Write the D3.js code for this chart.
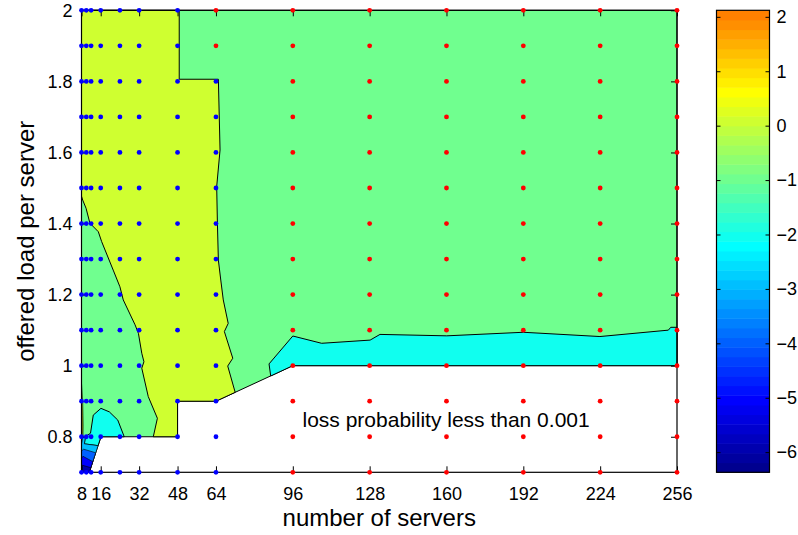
<!DOCTYPE html>
<html>
<head>
<meta charset="utf-8">
<script src="https://cdn.jsdelivr.net/npm/d3@7"></script>
<style>
  body { margin: 0; background: #fff; }
  svg { display: block; }
  text { font-family: "Liberation Sans", Arial, Helvetica, sans-serif; fill: #000; }
</style>
</head>
<body>
<div id="chart"></div>
<script>
// ---- data ----
var xTicks = [8, 16, 32, 48, 64, 96, 128, 160, 192, 224, 256];
var yTicks = [0.8, 1, 1.2, 1.4, 1.6, 1.8, 2];
var cTicks = [-6, -5, -4, -3, -2, -1, 0, 1, 2];
var cRange = [-6.37, 2.12];

// sample grid (number of servers x offered load)
var serverGrid = [8, 10, 12, 16, 24, 32, 48, 64, 96, 128, 160, 192, 224, 256];
var loadGrid = [0.7, 0.8, 0.9, 1.0, 1.1, 1.2, 1.3, 1.4, 1.5, 1.6, 1.7, 1.8, 1.9, 2.0];
var blueServers = [8, 10, 12, 16, 24, 32, 48, 64];
var redLoadsAt64 = [1.9, 2.0];

// filled contour regions [servers, load], level = log10 band
var validRegion = [[8,2],[256,2],[256,1],[96,1],[64,0.9],[48,0.9],[48,0.8],[16.12,0.8],[11.25,0.7],[8,0.7]];
var cyanBand = [[86.8,0.971],[86.1,1.005],[96,1.0835],[108,1.063],[128.2,1.072],[132.3,1.088],[160.1,1.084],
  [192,1.094],[223.9,1.082],[252.4,1.1],[253.4,1.108],[256,1.108],[256,1],[96,1]];
var cyanBlob = [[9.6,0.8],[11.75,0.81],[12.9,0.861],[16.1,0.88],[19.6,0.87],[23.1,0.847],[25.8,0.8],
  [16.12,0.8],[14.9,0.775],[9.2,0.78]];
var yellowRegion = [[8,2],[48.7,2],[48.7,1.806],[65,1.806],[65.7,1.607],[64.3,1.504],[64.6,1.40],[65,1.297],
  [66,1.241],[67.05,1.185],[69.1,1.119],[67.5,1.096],[71,1.021],[68.9,0.999],[72,0.925],[64,0.9],[48,0.9],
  [48,0.8],[37.9,0.8],[39.6,0.852],[35.8,0.913],[33.1,0.993],[34,1.011],[33.1,1.035],[31.7,1.091],
  [30.3,1.115],[25.4,1.185],[24,1.222],[21.2,1.269],[16.4,1.349],[15,1.377],[11.5,1.401],[9.9,1.443],
  [8.5,1.466],[8,1.477]];
var sliver0 = [[8,0.95],[8.5,0.9],[8.7,0.83],[8.6,0.8],[8,0.79]];
var sliver1 = [[8,0.91],[8.3,0.86],[8.35,0.81],[8,0.8]];
var wedge3 = [[8.6,0.8],[9.6,0.8],[9.2,0.78],[14.9,0.775],[11.25,0.7],[8,0.7],[8,0.78]];
var wedge4 = [[8.9,0.765],[13.9,0.755],[11.25,0.7],[8,0.7],[8,0.76]];
var wedge5 = [[8.6,0.745],[12.7,0.73],[11.25,0.7],[8,0.7],[8,0.74]];
var wedge6 = [[8.3,0.72],[11.9,0.713],[11.25,0.7],[8,0.7]];

var regions = [
  {level: -1, pts: validRegion},
  {level: -2, pts: cyanBand},
  {level: -2, pts: cyanBlob},
  {level: 0, pts: yellowRegion},
  {level: 0, pts: sliver0, thin: true},
  {level: 1, pts: sliver1, thin: true},
  {level: -3, pts: wedge3, thin: true},
  {level: -4, pts: wedge4, thin: true},
  {level: -5, pts: wedge5, thin: true},
  {level: -6, pts: wedge6, thin: true}
];

// ---- MATLAB jet(64), first 48 entries used ----
var nColors = 48;
function jet64(i) {
  var u = function(k) {
    if (k <= 0 || k > 47) return 0;
    if (k <= 16) return k / 16;
    if (k <= 31) return 1;
    return (48 - k) / 16;
  };
  return d3.rgb(255 * u(i - 24), 255 * u(i - 8), 255 * u(i + 8)).formatHex();
}
function levelColor(v) {
  var i = 1 + Math.floor((v - cRange[0]) / (cRange[1] - cRange[0]) * nColors);
  return jet64(Math.max(1, Math.min(nColors, i)));
}

// ---- layout ----
var width = 798, height = 535;
var plot = {left: 81.5, right: 677, top: 10.3, bottom: 472.3};
var cbar = {left: 716.5, right: 769.5};

var x = d3.scaleLinear().domain([8, 256]).range([plot.left, plot.right]);
var y = d3.scaleLinear().domain([0.7, 2]).range([plot.bottom, plot.top]);
var c = d3.scaleLinear().domain(cRange).range([plot.bottom, plot.top]);

var svg = d3.select("#chart").append("svg")
    .attr("width", width)
    .attr("height", height);

svg.append("rect").attr("width", width).attr("height", height).attr("fill", "#fff");

// filled contours
var line = d3.line()
    .x(function(d) { return x(d[0]); })
    .y(function(d) { return y(d[1]); });

svg.append("g")
  .selectAll("path")
  .data(regions)
  .enter().append("path")
    .attr("d", function(d) { return line(d.pts) + "Z"; })
    .attr("fill", function(d) { return levelColor(d.level); })
    .attr("stroke", "#000")
    .attr("stroke-width", function(d) { return d.thin ? 0.6 : 1; })
    .attr("stroke-linejoin", "round");

// annotation
svg.append("text")
    .attr("x", 302.5)
    .attr("y", 426.5)
    .attr("font-size", 21)
    .text("loss probability less than 0.001");

// axes
function styleAxis(g) {
  g.select(".domain").remove();
  g.selectAll(".tick line").attr("stroke", "#000");
  g.selectAll("text").attr("font-size", 18).attr("font-family", null).attr("fill", "#000");
  g.attr("font-family", null);
}

svg.append("g")
    .attr("transform", "translate(0," + plot.bottom + ")")
    .call(d3.axisBottom(x).tickValues(xTicks).tickSizeInner(-6).tickSizeOuter(0).tickPadding(15))
    .call(styleAxis);

svg.append("g")
    .attr("transform", "translate(0," + plot.top + ")")
    .call(d3.axisTop(x).tickValues(xTicks).tickSizeInner(-6).tickSizeOuter(0).tickFormat(""))
    .call(styleAxis);

svg.append("g")
    .attr("transform", "translate(" + plot.left + ",0)")
    .call(d3.axisLeft(y).tickValues(yTicks).tickSizeInner(-6).tickSizeOuter(0).tickPadding(9)
      .tickFormat(function(d) { return String(+d.toFixed(1)); }))
    .call(styleAxis);

svg.append("g")
    .attr("transform", "translate(" + plot.right + ",0)")
    .call(d3.axisRight(y).tickValues(yTicks).tickSizeInner(-6).tickSizeOuter(0).tickFormat(""))
    .call(styleAxis);

svg.append("rect")
    .attr("x", plot.left).attr("y", plot.top)
    .attr("width", plot.right - plot.left).attr("height", plot.bottom - plot.top)
    .attr("fill", "none").attr("stroke", "#000").attr("stroke-width", 1.2);

// axis titles
svg.append("text")
    .attr("x", (plot.left + plot.right) / 2)
    .attr("y", 526)
    .attr("text-anchor", "middle")
    .attr("font-size", 24)
    .text("number of servers");

svg.append("text")
    .attr("transform", "translate(34," + (plot.top + plot.bottom) / 2 + ") rotate(-90)")
    .attr("text-anchor", "middle")
    .attr("font-size", 24)
    .text("offered load per server");

// sample points
var blue = [], red = [];
serverGrid.forEach(function(s) {
  loadGrid.forEach(function(l) {
    var isBlue = blueServers.indexOf(s) >= 0 && !(s === 64 && redLoadsAt64.indexOf(l) >= 0);
    (isBlue ? blue : red).push([s, l]);
  });
});

svg.append("g").selectAll("circle")
  .data(blue)
  .enter().append("circle")
    .attr("cx", function(d) { return x(d[0]); })
    .attr("cy", function(d) { return y(d[1]); })
    .attr("r", 2.4)
    .attr("fill", "#0000ff");

svg.append("g").selectAll("circle")
  .data(red)
  .enter().append("circle")
    .attr("cx", function(d) { return x(d[0]); })
    .attr("cy", function(d) { return y(d[1]); })
    .attr("r", 2.4)
    .attr("fill", "#ff0000");

// colorbar
var step = (cRange[1] - cRange[0]) / nColors;
var bands = d3.range(nColors).map(function(k) { return cRange[0] + k * step; });

svg.append("g").selectAll("rect")
  .data(bands)
  .enter().append("rect")
    .attr("x", cbar.left)
    .attr("width", cbar.right - cbar.left)
    .attr("y", function(d) { return c(d + step); })
    .attr("height", function(d) { return c(d) - c(d + step) + 0.5; })
    .attr("fill", function(d, i) { return jet64(i + 1); });

var fmtC = function(d) { return d < 0 ? "\u2212" + (-d) : String(d); };

svg.append("g")
    .attr("transform", "translate(" + cbar.right + ",0)")
    .call(d3.axisRight(c).tickValues(cTicks).tickSizeInner(-4).tickSizeOuter(0).tickPadding(7).tickFormat(fmtC))
    .call(styleAxis);

svg.append("g")
    .attr("transform", "translate(" + cbar.left + ",0)")
    .call(d3.axisLeft(c).tickValues(cTicks).tickSizeInner(-4).tickSizeOuter(0).tickFormat(""))
    .call(styleAxis);

svg.append("rect")
    .attr("x", cbar.left).attr("y", plot.top)
    .attr("width", cbar.right - cbar.left).attr("height", plot.bottom - plot.top)
    .attr("fill", "none").attr("stroke", "#000").attr("stroke-width", 1.2);
</script>
</body>
</html>
